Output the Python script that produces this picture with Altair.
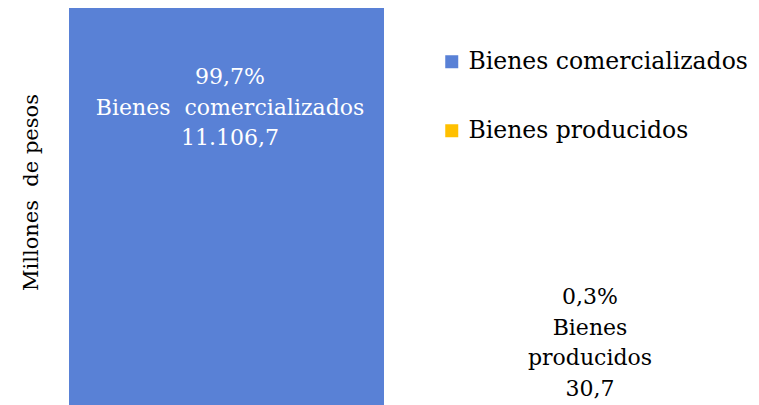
import altair as alt
import pandas as pd

categories = ["Bienes comercializados", "Bienes producidos"]
values = [11106.7, 30.7]
shares = ["99,7%", "0,3%"]
value_labels = ["11.106,7", "30,7"]
label_names = ["Bienes\u00a0 comercializados", "Bienes\nproducidos"]
colors = ["#5981D6", "#FFC000"]
stack_order = [1, 0]

FONT = "DejaVu Serif"

df = pd.DataFrame({
    "grupo": ["Total"] * 2,
    "categoria": categories,
    "valor": values,
    "orden": stack_order,
})

bars = alt.Chart(df).mark_bar(strokeWidth=0).encode(
    x=alt.X("grupo:N", axis=None, scale=alt.Scale(paddingInner=0, paddingOuter=0)),
    y=alt.Y("sum(valor):Q", stack="zero",
            axis=alt.Axis(labels=False, ticks=False, domain=False, grid=False,
                          title="Millones\u00a0 de pesos", titleFont=FONT,
                          titleFontSize=21, titleFontWeight="normal", titleColor="black",
                          titleX=-38, titleY=184, titleAngle=-90,
                          titleAlign="center", titleBaseline="middle"),
            scale=alt.Scale(domain=[0, sum(values)], nice=False)),
    color=alt.Color("categoria:N",
                    scale=alt.Scale(domain=categories, range=colors),
                    legend=alt.Legend(title=None, orient="none", legendX=371, legendY=42,
                                      symbolType="square", symbolSize=169,
                                      symbolStrokeWidth=0, labelFont=FONT,
                                      labelFontSize=23.5, labelColor="black",
                                      labelOffset=5, rowPadding=44, labelLimit=400)),
    order=alt.Order("orden:Q"),
)

lab1 = pd.DataFrame({"t": [[shares[0], label_names[0], value_labels[0]]]})
lab2 = pd.DataFrame({"t": [[shares[1]] + label_names[1].split("\n") + [value_labels[1]]]})

text1 = alt.Chart(lab1).mark_text(font=FONT, fontSize=22, color="white", align="center",
                                  baseline="top", lineHeight=30.5).encode(
    text="t:N", x=alt.value(161), y=alt.value(59))
text2 = alt.Chart(lab2).mark_text(font=FONT, fontSize=22, color="black", align="center",
                                  baseline="top", lineHeight=30.5).encode(
    text="t:N", x=alt.value(521), y=alt.value(279))

chart = alt.layer(bars, text1, text2).properties(
    width=315, height=402,
    autosize=alt.AutoSizeParams(type="none"),
    padding={"left": 61, "top": 0, "right": 367, "bottom": 0},
).configure_view(stroke=None)

chart.save("out.html", embed_options={"renderer": "svg", "actions": False})
